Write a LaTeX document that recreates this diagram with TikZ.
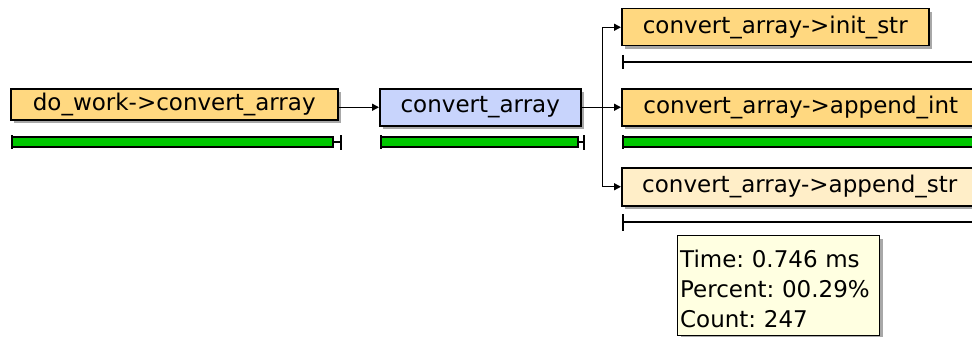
\documentclass[tikz,border=0pt]{standalone}
\usepackage{fontspec}
\setmainfont{DejaVu Sans}
\frenchspacing
\usetikzlibrary{arrows.meta,shadows}
\definecolor{fnorange}{RGB}{255,216,128}
\definecolor{fnblue}{RGB}{200,212,252}
\definecolor{fncream}{RGB}{255,238,200}
\definecolor{bargreen}{RGB}{0,200,0}
\definecolor{tipyellow}{RGB}{255,255,225}
\definecolor{shadowgrey}{RGB}{168,168,168}
\tikzset{
  fnbox/.style={draw=black, line width=1.5pt, inner sep=0pt, anchor=north west,
    font=\fontsize{23}{27}\selectfont,
    drop shadow={shadow xshift=3.5pt, shadow yshift=-3.5pt, fill=shadowgrey, opacity=1}},
  conn/.style={draw=black, line width=1.4pt, -{Triangle[length=7pt,width=7pt]}},
  plainline/.style={draw=black, line width=1.4pt},
  greenbar/.style={draw=black, line width=1.2pt, fill=bargreen},
  tipbox/.style={draw=black, line width=1.3pt, fill=tipyellow, anchor=north west,
    inner xsep=2.5pt, inner ysep=0pt, align=left, text width=197pt,
    font=\fontsize{23}{30}\selectfont,
    drop shadow={shadow xshift=3pt, shadow yshift=-3pt, fill=shadowgrey, opacity=1}}
}
\begin{document}
\begin{tikzpicture}[x=1pt,y=-1pt]
\useasboundingbox (0,0) rectangle (972,337);
\begin{scope}
\clip (0,0) rectangle (972,337);
% boxes
\node[fnbox, fill=fnorange, minimum width=327pt, minimum height=31pt] (b1) at (10,88) {do\_work->convert\_array};
\node[fnbox, fill=fnblue, minimum width=201pt, minimum height=37pt] (b2) at (379,88) {convert\_array};
\node[fnbox, fill=fnorange, minimum width=307pt, minimum height=37pt] (b3) at (621,8) {convert\_array->init\_str};
\node[fnbox, fill=fnorange, minimum width=358pt, minimum height=37pt] (b4) at (621,88) {convert\_array->append\_int};
\node[fnbox, fill=fncream, minimum width=356pt, minimum height=38pt] (b5) at (621,167) {convert\_array->append\_str};
% bars
\draw[greenbar] (12,137) rectangle (333,147);
\draw[plainline] (333,142) -- (341,142);
\draw[plainline] (12,135) -- (12,149);
\draw[plainline] (341,135) -- (341,150);

\draw[greenbar] (381,137) rectangle (578,147);
\draw[plainline] (578,142) -- (584,142);
\draw[plainline] (381,135) -- (381,149);
\draw[plainline] (584,135) -- (584,150);

\draw[plainline] (623,62) -- (980,62);
\draw[plainline] (623,55) -- (623,69);

\draw[greenbar] (623,137) rectangle (985,147);
\draw[plainline] (623,135) -- (623,149);

\draw[plainline] (623,222) -- (980,222);
\draw[plainline] (623,214) -- (623,231);
% connectors
\path (b2.east) ++(21pt,0) coordinate (j);
\draw[conn] (b1.east |- b2.west) -- (b2.west);
\draw[plainline] (b2.east) -- (j);
\draw[conn] (j) -- (b4.west);
\draw[conn] (j) |- (b3.west);
\draw[conn] (j) |- (b5.west);
% tooltip
\node[tipbox, minimum height=100pt] (tip) at (677,235) {\rule{0pt}{25pt}Time: 0.746 ms\\Percent: 00.29\%\\Count: 247};
\end{scope}
\end{tikzpicture}
\end{document}
